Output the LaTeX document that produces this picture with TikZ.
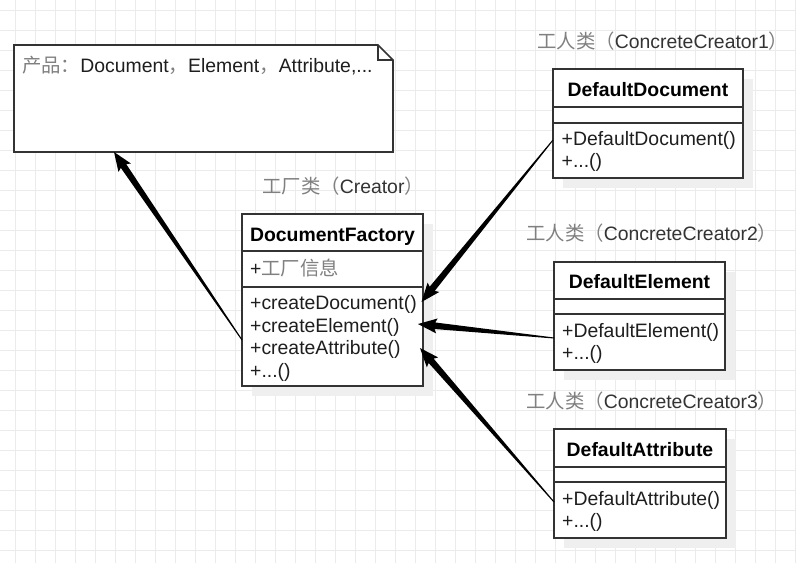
\documentclass[tikz,border=0pt]{standalone}
\usepackage{fontspec}
\setmainfont{Liberation Sans}
\newfontfamily\cjkfont{Noto Sans CJK SC}
\usetikzlibrary{calc}
\definecolor{gridc}{HTML}{EBEBEB}
\definecolor{edgec}{HTML}{333333}
\definecolor{zhc}{HTML}{808080}
\definecolor{txtc}{HTML}{1E1E1E}
\definecolor{shadc}{HTML}{EFEFEF}
\newcommand{\zhtext}[1]{{\cjkfont\color{zhc}#1}}
\newcommand{\taperarrow}[2]{%
  \coordinate (hb) at ($(#2)!17pt!(#1)$);
  \coordinate (hbb) at ($(#2)!19pt!(#1)$);
  \fill[black] ($(#1)!0.5pt!90:(#2)$) -- ($(hb)!3.3pt!90:(#2)$) -- ($(hbb)!7.5pt!90:(#2)$) -- (#2)
    -- ($(hbb)!7.5pt!-90:(#2)$) -- ($(hb)!3.3pt!-90:(#2)$) -- ($(#1)!0.5pt!-90:(#2)$) -- cycle;}
\begin{document}
\begin{tikzpicture}[x=1pt,y=-1pt,
  font=\fontsize{19.4}{22}\selectfont,
  gridline/.style={draw=gridc, line width=1pt},
  comp/.style={draw=edgec, line width=1.6pt, fill=white, anchor=north west, inner sep=0pt, outer sep=0pt},
  shade/.style={fill=shadc, draw=none},
  ttl/.style={anchor=base, inner sep=0pt, text=black, font=\fontsize{19.4}{22}\selectfont\bfseries},
  mem/.style={anchor=base west, inner sep=0pt, text=txtc},
  lbl/.style={anchor=base west, inner sep=0pt, text=edgec}]
\useasboundingbox (0,0) rectangle (796,563);
\fill[white] (0,0) rectangle (796,563);
% grid
\foreach \i in {0,...,39} \draw[gridline] (15+20*\i,0) -- (15+20*\i,563);
\foreach \j in {0,...,27} \draw[gridline] (0,10+20*\j) -- (796,10+20*\j);

% note
\node[anchor=north west, inner sep=0pt, outer sep=0pt, minimum width=379pt, minimum height=107pt] (note) at (14,45) {};
\draw[edgec, line width=1.6pt, fill=white] (note.north west) -- ($(note.north east)+(-15,0)$) -- ($(note.north east)+(0,15)$) -- (note.south east) -- (note.south west) -- cycle;
\draw[edgec, line width=1.3pt] ($(note.north east)+(-15,0)$) -- ($(note.north east)+(-15,15)$) -- ($(note.north east)+(0,15)$);
\node[lbl, text=txtc] (notetext) at (22,72) {\zhtext{产品：}Document\zhtext{，}Element\zhtext{，}Attribute,...};

% shadows
\fill[shade] (252,224) rectangle (433,396);
\fill[shade] (563,79) rectangle (753,188);
\fill[shade] (564,272) rectangle (735,380);
\fill[shade] (564,439) rectangle (736,548);

% DocumentFactory
\node[comp, minimum width=181pt, minimum height=37pt] (dfh) at (242,214) {};
\node[comp, minimum width=181pt, minimum height=36pt] (dfa) at (242,251) {};
\node[comp, minimum width=181pt, minimum height=99pt] (dfm) at (242,287) {};
\node[ttl] (dft) at (332.5,241) {DocumentFactory};
\node[mem] (dfa1) at (250,275) {+\zhtext{工厂信息}};
\node[mem] (dfm1) at (250,309.5) {+createDocument()};
\node[mem] (dfm2) at (250,332) {+createElement()};
\node[mem] (dfm3) at (250,354.5) {+createAttribute()};
\node[mem] (dfm4) at (250,377) {+...()};
\node[lbl] (dfl) at (262,193) {\zhtext{工厂类（}Creator\zhtext{）}};

% DefaultDocument
\node[comp, minimum width=190pt, minimum height=38pt] (ddh) at (553,69) {};
\node[comp, minimum width=190pt, minimum height=16pt] (dda) at (553,107) {};
\node[comp, minimum width=190pt, minimum height=55pt] (ddm) at (553,123) {};
\node[ttl] (ddt) at (648,96.5) {DefaultDocument};
\node[mem] (ddm1) at (561.5,145.5) {+DefaultDocument()};
\node[mem] (ddm2) at (561.5,167.5) {+...()};
\node[lbl] (ddl) at (537,48.5) {\zhtext{工人类（}ConcreteCreator1\zhtext{）}};

% DefaultElement
\node[comp, minimum width=171pt, minimum height=37pt] (deh) at (554,262) {};
\node[comp, minimum width=171pt, minimum height=15pt] (dea) at (554,299) {};
\node[comp, minimum width=171pt, minimum height=56pt] (dem) at (554,314) {};
\node[ttl] (det) at (639.5,288.5) {DefaultElement};
\node[mem] (dem1) at (562,337.5) {+DefaultElement()};
\node[mem] (dem2) at (562,359.5) {+...()};
\node[lbl] (del) at (526,240) {\zhtext{工人类（}ConcreteCreator2\zhtext{）}};

% DefaultAttribute
\node[comp, minimum width=172pt, minimum height=38pt] (dah) at (554,429) {};
\node[comp, minimum width=172pt, minimum height=15pt] (daa) at (554,467) {};
\node[comp, minimum width=172pt, minimum height=56pt] (dam) at (554,482) {};
\node[ttl] (dat) at (640,456) {DefaultAttribute};
\node[mem] (dam1) at (562,505) {+DefaultAttribute()};
\node[mem] (dam2) at (562,527) {+...()};
\node[lbl] (dal) at (526,408.5) {\zhtext{工人类（}ConcreteCreator3\zhtext{）}};

% connectors
\coordinate (a1s) at ($(dfm.west)+(0,3.5)$);
\coordinate (a1t) at ($(note.south)+(-89.5,0)$);
\coordinate (a2s) at ($(ddm.west)+(0,-10.5)$);
\coordinate (a2t) at ($(dfm.east)+(-1.5,-34.5)$);
\coordinate (a3s) at ($(dem.west)+(0,-4)$);
\coordinate (a3t) at ($(dfm.east)+(-5,-12.5)$);
\coordinate (a4s) at ($(dam.west)+(0,-8)$);
\coordinate (a4t) at ($(dfm.east)+(-3,11.5)$);
\taperarrow{a1s}{a1t}
\taperarrow{a2s}{a2t}
\taperarrow{a3s}{a3t}
\taperarrow{a4s}{a4t}
\end{tikzpicture}
\end{document}
